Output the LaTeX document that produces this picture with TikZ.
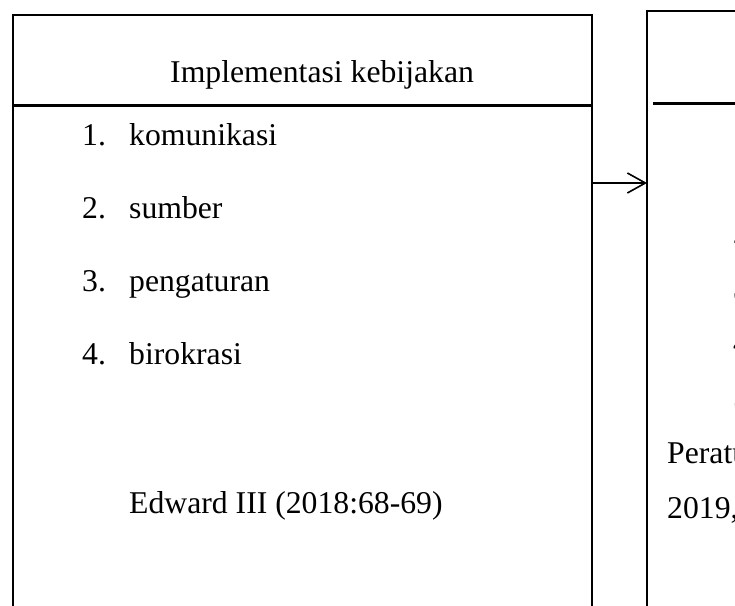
\documentclass[tikz,border=0pt]{standalone}
\usepackage{fontspec}
\setmainfont{Liberation Serif}
\usetikzlibrary{arrows.meta, positioning}

\tikzset{
  box/.style={draw, line width=1.3pt, inner sep=0pt, outer sep=0pt, anchor=north west},
  headrule/.style={line width=3pt},
  word/.style={inner sep=0pt, anchor=base west, font=\fontsize{31.7}{38}\selectfont}
}

\begin{document}
\begin{tikzpicture}[x=1pt, y=-1pt]
  \clip (0,0) rectangle (735,605);

  \node[box, minimum width=579pt, minimum height=620pt] (Lbox) at (13,15) {};
  \node[box, minimum width=150pt, minimum height=620pt] (Rbox) at (647,11) {};

  \draw[headrule] (Lbox.west |- 0,105) -- (Lbox.east |- 0,105);
  \draw[headrule] (653,103) -- (Rbox.east |- 0,103);

  \node[word] (head) at (170,82) {Implementasi kebijakan};

  \node[word] (n1) at (82,145) {1.};
  \node[word] (i1) at (129,145) {komunikasi};
  \node[word] (n2) at (82,218) {2.};
  \node[word] (i2) at (129,218) {sumber};
  \node[word] (n3) at (82,291) {3.};
  \node[word] (i3) at (129,291) {pengaturan};
  \node[word] (n4) at (82,364) {4.};
  \node[word] (i4) at (129,364) {birokrasi};

  \node[word] (src) at (129,513) {Edward III (2018:68-69)};

  \node[word] (m2) at (733,243) {2};
  \node[word] (m3) at (733,298) {3};
  \node[word] (m4) at (733,353) {4};
  \node[word] (m5) at (733,408) {5};
  \node[word] (law1) at (667,463) {Peratu};
  \node[word] (law2) at (667,518) {2019,};

  \coordinate (mid) at (0,183);
  \draw[line width=1.6pt, -{Straight Barb[length=18pt,width=20pt]}] (Lbox.east |- mid) -- (Rbox.west |- mid);
\end{tikzpicture}
\end{document}
